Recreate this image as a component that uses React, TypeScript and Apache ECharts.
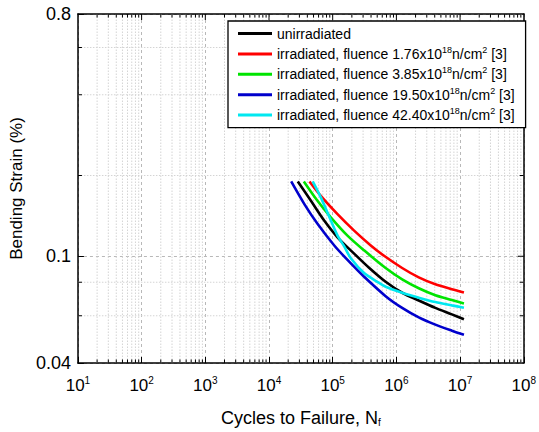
import React, { useEffect, useRef } from "react";
import * as echarts from "echarts";

// ---- Data ----
const seriesNames = [
  "unirradiated",
  "irradiated, fluence 1.76x10^18n/cm^2 [3]",
  "irradiated, fluence 3.85x10^18n/cm^2 [3]",
  "irradiated, fluence 19.50x10^18n/cm^2 [3]",
  "irradiated, fluence 42.40x10^18n/cm^2 [3]",
];
const seriesColors = ["#000000", "#ff0000", "#00e400", "#0000cc", "#00e8f0"];

const cyclesUnirr = [28300, 45800, 74000, 119000, 217000, 372000, 678000, 1232000, 2245000, 4090000, 7430000, 11500000];
const strainUnirr = [0.19, 0.1606, 0.1356, 0.1177, 0.1023, 0.0906, 0.0803, 0.0731, 0.0684, 0.0642, 0.0607, 0.0582];

const cycles176 = [43200, 65600, 119000, 217000, 396000, 640000, 1232000, 2245000, 4090000, 7430000, 11500000];
const strain176 = [0.19, 0.1675, 0.1435, 0.1246, 0.1097, 0.1004, 0.0904, 0.0834, 0.0786, 0.0754, 0.0733];

const cycles385 = [35200, 58100, 94000, 170600, 311000, 678000, 1232000, 2245000, 4090000, 7430000, 11500000];
const strain385 = [0.19, 0.1606, 0.1394, 0.1194, 0.1052, 0.0904, 0.082, 0.076, 0.0716, 0.0687, 0.0666];

const cycles1950 = [22300, 36100, 58100, 105900, 192800, 311000, 678000, 1232000, 2245000, 4090000, 7430000, 11500000];
const strain1950 = [0.19, 0.1561, 0.1318, 0.1097, 0.094, 0.0839, 0.071, 0.0642, 0.0592, 0.0556, 0.0528, 0.051];

const cycles4240 = [48500, 65600, 94000, 119200, 151700, 192800, 311200, 501500, 678500, 1232000, 2245000, 4090000, 7430000, 11500000];
const strain4240 = [0.19, 0.165, 0.1356, 0.1194, 0.1088, 0.0983, 0.0866, 0.0803, 0.077, 0.0731, 0.0701, 0.0675, 0.0656, 0.0643];

const cyclesAll = [cyclesUnirr, cycles176, cycles385, cycles1950, cycles4240];
const strainAll = [strainUnirr, strain176, strain385, strain1950, strain4240];

// ---- Axes ----
const X_MIN = 10;
const X_MAX = 1e8;
const Y_MIN = 0.04;
const Y_MAX = 0.8;
const xDecades = [10, 100, 1000, 10000, 100000, 1000000, 10000000];
const xMultipliers = [2, 3, 4, 5, 6, 7, 8, 9];
const yMinorTicks = [0.06, 0.08, 0.2, 0.4, 0.6];
const yMajorLabels = ["0.04", "0.1", "0.8"];

const FONT = "Arial, 'Liberation Sans', sans-serif";

const legendRich: Record<string, string> = {
  [seriesNames[0]]: "unirradiated",
  [seriesNames[1]]: "irradiated, fluence 1.76x10{s|18}n/cm{s|2} [3]",
  [seriesNames[2]]: "irradiated, fluence 3.85x10{s|18}n/cm{s|2} [3]",
  [seriesNames[3]]: "irradiated, fluence 19.50x10{s|18}n/cm{s|2} [3]",
  [seriesNames[4]]: "irradiated, fluence 42.40x10{s|18}n/cm{s|2} [3]",
};

export default function App() {
  const ref = useRef<HTMLDivElement>(null);

  useEffect(() => {
    document.body.style.margin = "0";
    if (!ref.current) return;
    const chart = echarts.init(ref.current, null, { renderer: "svg" });

    const minorData: number[][] = [];
    xDecades.forEach((d) => xMultipliers.forEach((m) => minorData.push([d * m, Y_MIN, 0])));
    yMinorTicks.forEach((v) => minorData.push([X_MIN, v, 1]));
    // major ticks on the opposite (top/right) frame
    xDecades.slice(1).forEach((d) => minorData.push([d, Y_MIN, 2]));
    minorData.push([X_MIN, 0.1, 3]);

    const gridColorMinor = "#d4d4d4";
    const tickColor = "#000";

    const lineSeries = seriesNames.map((name, i) => ({
      name,
      type: "line",
      xAxisIndex: 0,
      yAxisIndex: 0,
      data: cyclesAll[i].map((c, j) => [c, strainAll[i][j]]),
      showSymbol: false,
      smooth: 0.3,
      lineStyle: { color: seriesColors[i], width: 2.6 },
      itemStyle: { color: seriesColors[i] },
      z: 5,
    }));

    const option: any = {
      animation: false,
      grid: { left: 77, top: 14, right: 13, bottom: 64, containLabel: false },
      xAxis: [
        {
          type: "log",
          logBase: 10,
          min: X_MIN,
          max: X_MAX,
          position: "bottom",
          axisLine: { show: true, onZero: false, lineStyle: { color: "#000", width: 1.5 } },
          axisTick: { show: true, inside: true, length: 6, lineStyle: { color: tickColor, width: 1 } },
          splitLine: { show: true, lineStyle: { color: "#b8b8b8", type: [3, 3], width: 1 } },
          axisLabel: {
            margin: 12,
            color: "#000",
            formatter: (v: number) => `{b|10}{s|${Math.round(Math.log10(v))}}`,
            rich: {
              b: { fontSize: 17, fontFamily: FONT, color: "#000", lineHeight: 20 },
              s: { fontSize: 10, fontFamily: FONT, color: "#000", verticalAlign: "top", lineHeight: 12 },
            },
          },
          name: "Cycles to Failure, N{sub|f}",
          nameLocation: "middle",
          nameGap: 46,
          nameTextStyle: {
            fontSize: 18,
            fontFamily: FONT,
            color: "#000",
            rich: {
              sub: { fontSize: 10, fontFamily: FONT, color: "#000", verticalAlign: "bottom", padding: [8, 0, 0, 0] },
            },
          },
        },
        {
          type: "log",
          logBase: 10,
          min: X_MIN,
          max: X_MAX,
          position: "top",
          axisLine: { show: true, onZero: false, lineStyle: { color: "#000", width: 1.5 } },
          axisTick: { show: false },
          splitLine: { show: false },
          axisLabel: { show: false },
        },
      ],
      yAxis: [
        {
          type: "log",
          logBase: 10,
          min: Y_MIN,
          max: Y_MAX,
          position: "left",
          axisLine: { show: true, onZero: false, lineStyle: { color: "#000", width: 1.5 } },
          axisTick: { show: true, inside: true, length: 6, lineStyle: { color: tickColor, width: 1 } },
          splitLine: { show: true, lineStyle: { color: "#b8b8b8", type: [3, 3], width: 1 } },
          axisLabel: {
            margin: 7,
            color: "#000",
            fontSize: 18,
            fontFamily: FONT,
            formatter: (v: number) => {
              if (v < 0.06) return yMajorLabels[0];
              if (v > 0.5) return yMajorLabels[2];
              return yMajorLabels[1];
            },
          },
          name: "Bending Strain (%)",
          nameLocation: "middle",
          nameGap: 50,
          nameTextStyle: { fontSize: 17, fontFamily: FONT, color: "#000" },
        },
        {
          type: "log",
          logBase: 10,
          min: Y_MIN,
          max: Y_MAX,
          position: "right",
          axisLine: { show: true, onZero: false, lineStyle: { color: "#000", width: 1.5 } },
          axisTick: { show: false },
          splitLine: { show: false },
          axisLabel: { show: false },
        },
      ],
      legend: {
        orient: "vertical",
        left: 228,
        top: 21,
        padding: [4, 11, 4, 10],
        itemGap: 3.4,
        itemWidth: 34,
        itemHeight: 3,
        icon: "rect",
        backgroundColor: "#fff",
        borderColor: "#000",
        borderWidth: 1.3,
        borderRadius: 0,
        data: seriesNames,
        formatter: (name: string) => legendRich[name] || name,
        textStyle: {
          fontSize: 14,
          fontFamily: FONT,
          color: "#000",
          lineHeight: 17,
          rich: {
            s: { fontSize: 9, fontFamily: FONT, color: "#000", verticalAlign: "top", lineHeight: 10 },
          },
        },
      },
      series: [
        {
          type: "custom",
          name: "grid-minor",
          xAxisIndex: 0,
          yAxisIndex: 0,
          silent: true,
          clip: false,
          z: 1,
          data: minorData,
          renderItem: (params: any, api: any) => {
            const kind = api.value(2);
            if (kind === 0) {
              const x = api.value(0);
              const p1 = api.coord([x, Y_MIN]);
              const p2 = api.coord([x, Y_MAX]);
              return {
                type: "group",
                children: [
                  { type: "line", shape: { x1: p1[0], y1: p1[1], x2: p2[0], y2: p2[1] }, style: { stroke: gridColorMinor, lineWidth: 1, lineDash: [1.5, 1.5] } },
                  { type: "line", shape: { x1: p1[0], y1: p1[1], x2: p1[0], y2: p1[1] - 3.5 }, style: { stroke: tickColor, lineWidth: 1 } },
                  { type: "line", shape: { x1: p2[0], y1: p2[1], x2: p2[0], y2: p2[1] + 3.5 }, style: { stroke: tickColor, lineWidth: 1 } },
                ],
              };
            }
            if (kind === 1) {
              const y = api.value(1);
              const p1 = api.coord([X_MIN, y]);
              const p2 = api.coord([X_MAX, y]);
              return {
                type: "group",
                children: [
                  { type: "line", shape: { x1: p1[0], y1: p1[1], x2: p2[0], y2: p2[1] }, style: { stroke: gridColorMinor, lineWidth: 1, lineDash: [1.5, 1.5] } },
                  { type: "line", shape: { x1: p1[0], y1: p1[1], x2: p1[0] + 4, y2: p1[1] }, style: { stroke: tickColor, lineWidth: 1 } },
                  { type: "line", shape: { x1: p2[0], y1: p2[1], x2: p2[0] - 4, y2: p2[1] }, style: { stroke: tickColor, lineWidth: 1 } },
                ],
              };
            }
            if (kind === 2) {
              const x = api.value(0);
              const p2 = api.coord([x, Y_MAX]);
              return { type: "line", shape: { x1: p2[0], y1: p2[1], x2: p2[0], y2: p2[1] + 6 }, style: { stroke: tickColor, lineWidth: 1 } };
            }
            const y = api.value(1);
            const p2 = api.coord([X_MAX, y]);
            return { type: "line", shape: { x1: p2[0], y1: p2[1], x2: p2[0] - 6, y2: p2[1] }, style: { stroke: tickColor, lineWidth: 1 } };
          },
        },
        ...lineSeries,
      ],
    };

    chart.setOption(option);
    return () => chart.dispose();
  }, []);

  return <div ref={ref} style={{ width: 539, height: 432 }} />;
}
